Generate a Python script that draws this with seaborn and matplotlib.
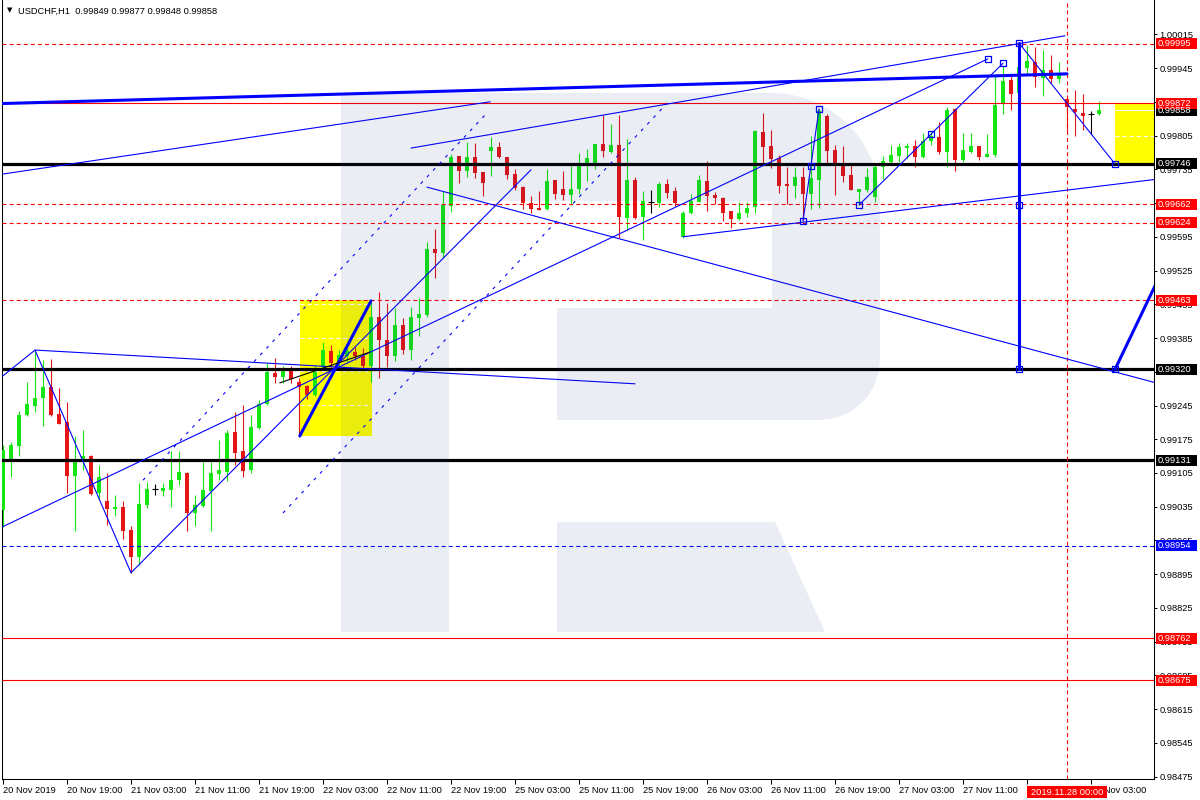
import numpy as np
import pandas as pd
import matplotlib
matplotlib.use("Agg")
import matplotlib.pyplot as plt
import matplotlib.transforms as mtransforms
from matplotlib.patches import Rectangle, Polygon
import seaborn as sns

# ---------------- data ----------------
symbol = "USDCHF,H1"

bar_open = [0.99028, 0.99134, 0.99161, 0.99225, 0.99244, 0.99261, 0.99283, 0.99227, 0.99211, 0.99099,
            0.99134, 0.99140, 0.99063, 0.99047, 0.99030, 0.99034, 0.98987, 0.98931, 0.99039, 0.99072,
            0.99068, 0.99070, 0.99090, 0.99105, 0.99022, 0.99037, 0.99068, 0.99103, 0.99107, 0.99190,
            0.99151, 0.99111, 0.99198, 0.99248, 0.99312, 0.99304, 0.99317, 0.99294, 0.99285, 0.99267,
            0.99325, 0.99358, 0.99333, 0.99348, 0.99356, 0.99348, 0.99327, 0.99429, 0.99381, 0.99348,
            0.99412, 0.99360, 0.99426, 0.99433, 0.99570, 0.99561, 0.99659, 0.99763, 0.99731, 0.99760,
            0.99729, 0.99773, 0.99781, 0.99760, 0.99725, 0.99698, 0.99665, 0.99655, 0.99653, 0.99713,
            0.99694, 0.99682, 0.99694, 0.99744, 0.99748, 0.99787, 0.99771, 0.99785, 0.99634, 0.99713,
            0.99636, 0.99667, 0.99665, 0.99704, 0.99690, 0.99595, 0.99644, 0.99667, 0.99711, 0.99682,
            0.99675, 0.99648, 0.99632, 0.99644, 0.99657, 0.99812, 0.99783, 0.99758, 0.99704, 0.99700,
            0.99719, 0.99684, 0.99713, 0.99846, 0.99775, 0.99744, 0.99723, 0.99688, 0.99692, 0.99677,
            0.99740, 0.99750, 0.99763, 0.99779, 0.99783, 0.99760, 0.99794, 0.99802, 0.99771, 0.99860,
            0.99754, 0.99771, 0.99783, 0.99760, 0.99765, 0.99872, 0.99920, 0.99893, 0.99945, 0.99958,
            0.99924, 0.99941, 0.99922, 0.99881, 0.99860, 0.99852, 0.99850, 0.99849]
bar_high = [0.99163, 0.99169, 0.99234, 0.99294, 0.99360, 0.99339, 0.99341, 0.99281, 0.99252, 0.99182,
            0.99194, 0.99142, 0.99122, 0.99105, 0.99059, 0.99047, 0.98995, 0.99084, 0.99086, 0.99082,
            0.99084, 0.99151, 0.99151, 0.99107, 0.99059, 0.99128, 0.99128, 0.99173, 0.99194, 0.99231,
            0.99246, 0.99225, 0.99256, 0.99333, 0.99344, 0.99327, 0.99327, 0.99302, 0.99288, 0.99327,
            0.99377, 0.99370, 0.99360, 0.99364, 0.99366, 0.99364, 0.99460, 0.99480, 0.99458, 0.99447,
            0.99426, 0.99449, 0.99468, 0.99584, 0.99611, 0.99690, 0.99767, 0.99763, 0.99792, 0.99790,
            0.99729, 0.99802, 0.99792, 0.99760, 0.99736, 0.99700, 0.99680, 0.99690, 0.99736, 0.99713,
            0.99731, 0.99742, 0.99769, 0.99777, 0.99787, 0.99848, 0.99829, 0.99848, 0.99798, 0.99719,
            0.99690, 0.99692, 0.99709, 0.99715, 0.99698, 0.99648, 0.99684, 0.99723, 0.99752, 0.99688,
            0.99677, 0.99648, 0.99667, 0.99667, 0.99816, 0.99852, 0.99816, 0.99765, 0.99740, 0.99740,
            0.99740, 0.99804, 0.99860, 0.99850, 0.99785, 0.99783, 0.99744, 0.99694, 0.99738, 0.99744,
            0.99763, 0.99785, 0.99790, 0.99790, 0.99796, 0.99810, 0.99812, 0.99833, 0.99864, 0.99862,
            0.99810, 0.99810, 0.99783, 0.99808, 0.99928, 0.99951, 0.99931, 0.99997, 0.99993, 0.99989,
            0.99982, 0.99972, 0.99958, 0.99881, 0.99899, 0.99891, 0.99856, 0.99877]
bar_low = [0.98993, 0.99097, 0.99140, 0.99223, 0.99231, 0.99202, 0.99223, 0.99207, 0.99063, 0.98985,
           0.99111, 0.99059, 0.99053, 0.98997, 0.99016, 0.98968, 0.98898, 0.98914, 0.99032, 0.99059,
           0.99057, 0.99034, 0.99080, 0.98985, 0.98995, 0.99034, 0.98985, 0.99090, 0.99088, 0.99122,
           0.99097, 0.99105, 0.99196, 0.99246, 0.99292, 0.99292, 0.99292, 0.99180, 0.99258, 0.99265,
           0.99323, 0.99325, 0.99325, 0.99335, 0.99339, 0.99323, 0.99294, 0.99302, 0.99325, 0.99337,
           0.99352, 0.99339, 0.99389, 0.99429, 0.99509, 0.99551, 0.99646, 0.99707, 0.99719, 0.99717,
           0.99680, 0.99721, 0.99758, 0.99715, 0.99692, 0.99653, 0.99644, 0.99651, 0.99651, 0.99673,
           0.99671, 0.99661, 0.99684, 0.99711, 0.99736, 0.99760, 0.99769, 0.99592, 0.99609, 0.99632,
           0.99588, 0.99644, 0.99657, 0.99675, 0.99659, 0.99592, 0.99642, 0.99667, 0.99648, 0.99663,
           0.99628, 0.99613, 0.99630, 0.99636, 0.99644, 0.99748, 0.99738, 0.99686, 0.99663, 0.99675,
           0.99628, 0.99653, 0.99655, 0.99748, 0.99682, 0.99709, 0.99692, 0.99661, 0.99688, 0.99667,
           0.99715, 0.99744, 0.99750, 0.99758, 0.99740, 0.99758, 0.99785, 0.99767, 0.99740, 0.99731,
           0.99750, 0.99769, 0.99754, 0.99760, 0.99760, 0.99850, 0.99858, 0.99875, 0.99931, 0.99906,
           0.99887, 0.99914, 0.99914, 0.99812, 0.99804, 0.99816, 0.99808, 0.99848]
bar_close = [0.99153, 0.99163, 0.99225, 0.99248, 0.99261, 0.99283, 0.99225, 0.99207, 0.99099, 0.99128,
             0.99140, 0.99061, 0.99097, 0.99030, 0.99034, 0.98985, 0.98931, 0.99041, 0.99072, 0.99072,
             0.99074, 0.99090, 0.99107, 0.99022, 0.99039, 0.99070, 0.99105, 0.99111, 0.99188, 0.99146,
             0.99109, 0.99200, 0.99248, 0.99314, 0.99304, 0.99317, 0.99300, 0.99283, 0.99267, 0.99314,
             0.99360, 0.99333, 0.99350, 0.99358, 0.99348, 0.99327, 0.99429, 0.99381, 0.99348, 0.99412,
             0.99360, 0.99429, 0.99435, 0.99570, 0.99561, 0.99661, 0.99760, 0.99731, 0.99760, 0.99727,
             0.99707, 0.99781, 0.99760, 0.99723, 0.99696, 0.99665, 0.99653, 0.99651, 0.99711, 0.99684,
             0.99682, 0.99694, 0.99744, 0.99758, 0.99787, 0.99773, 0.99785, 0.99636, 0.99713, 0.99634,
             0.99669, 0.99667, 0.99704, 0.99686, 0.99665, 0.99644, 0.99669, 0.99713, 0.99680, 0.99675,
             0.99644, 0.99632, 0.99644, 0.99655, 0.99814, 0.99781, 0.99756, 0.99700, 0.99700, 0.99719,
             0.99684, 0.99717, 0.99856, 0.99773, 0.99748, 0.99721, 0.99692, 0.99694, 0.99719, 0.99740,
             0.99752, 0.99765, 0.99781, 0.99783, 0.99760, 0.99794, 0.99804, 0.99771, 0.99858, 0.99754,
             0.99775, 0.99783, 0.99760, 0.99767, 0.99868, 0.99918, 0.99891, 0.99947, 0.99960, 0.99926,
             0.99941, 0.99922, 0.99933, 0.99864, 0.99854, 0.99846, 0.99850, 0.99858]

# the 27 Nov 19:00 label sits fully under the cursor time tag, so it is left blank
time_labels = ["20 Nov 2019", "20 Nov 19:00", "21 Nov 03:00", "21 Nov 11:00", "21 Nov 19:00",
               "22 Nov 03:00", "22 Nov 11:00", "22 Nov 19:00", "25 Nov 03:00", "25 Nov 11:00",
               "25 Nov 19:00", "26 Nov 03:00", "26 Nov 11:00", "26 Nov 19:00", "27 Nov 03:00",
               "27 Nov 11:00", "", "28 Nov 03:00"]
bars_per_label = 8
cursor_bar = 133
cursor_label = "2019.11.28 00:00"

price_ticks = [1.00015, 0.99945, 0.99875, 0.99805, 0.99735, 0.99665, 0.99595, 0.99525, 0.99455,
               0.99385, 0.99315, 0.99245, 0.99175, 0.99105, 0.99035, 0.98965, 0.98895, 0.98825,
               0.98755, 0.98685, 0.98615, 0.98545, 0.98475]

red_dashed_levels = [0.99995, 0.99662, 0.99624, 0.99463]
red_solid_levels = [0.99872, 0.98762, 0.98675]
black_levels = [0.99746, 0.99320, 0.99131]
blue_dashed_levels = [0.98954]

# trend lines as (bar, price) pairs
thick_top_line = [(-1.0, 0.99871), (133.0, 0.99933)]
thin_left_line = [(-0.5, 0.99724), (60.9, 0.99875)]
upper_channel = [(51.0, 0.99779), (132.75, 1.00012)]
long_rising_line = [(-0.5, 0.98990), (123.1, 0.99964)]
flat_falling_line = [(4.0, 0.99360), (79.0, 0.99290)]
first_zigzag = [(-0.5, 0.99300), (4.0, 0.99360), (16.0, 0.98898), (66.0, 0.99734)]
dash_channel_upper = [(17.5, 0.99090), (60.5, 0.99852)]
dash_channel_lower = [(35.0, 0.99022), (83.0, 0.99872)]
long_falling_line = [(53.0, 0.99698), (145.0, 0.99288)]
lower_rising_line = [(85.0, 0.99595), (145.0, 0.99716)]
zigzag_a = [(100.0, 0.99628), (102.0, 0.99860)]
zigzag_b = [(107.0, 0.99661), (125.0, 0.99955)]
zigzag_c = [(127.0, 0.99997), (139.0, 0.99746)]
target_vertical = [(127.0, 0.99997), (127.0, 0.99320)]
target_up = [(139.0, 0.99320), (145.0, 0.99528)]
fan_thick = [(37.1, 0.99182), (46.0, 0.99462)]
fan_black = [(34.6, 0.99292), (45.9, 0.99356)]

anchor_bars = [123.1, 125.0, 127.0, 100.0, 102.0, 101.0, 107.0, 116.0, 127.0, 127.0, 139.0, 139.0]
anchor_prices = [0.99964, 0.99955, 0.99997, 0.99628, 0.99860, 0.99742, 0.99661, 0.99808, 0.99661,
                 0.99320, 0.99746, 0.99320]

left_box = (37.1, 46.1, 0.99182, 0.99464)
left_box_levels = [0.99455, 0.99385, 0.99317, 0.99246]
right_box = (139.0, 150.0, 0.99746, 0.99870)
right_box_dashed = [0.99804]

# ---------------- style ----------------
GREEN = "#14e614"
RED = "#e61414"
LEVEL_RED = "#ff0000"
BLUE = "#0000ff"
FS = 6.7

sns.set_theme(style="white")
plt.rcParams["font.family"] = ["Liberation Sans", "DejaVu Sans"]
plt.rcParams["lines.scale_dashes"] = False
plt.rcParams["axes.linewidth"] = 0.75

fig = plt.figure(figsize=(12, 8), dpi=100)
ax = fig.add_axes([2.3 / 1200, 21 / 800, 1151.2 / 1200, 779 / 800])
ax.set_facecolor("white")
ax.set_xlim(-0.0875, 143.81)
ax.set_ylim(0.984702, 1.000862)

dash = (0, (2.9, 2.2))
dot = (0, (2.2, 4.3))

# yellow rectangles (behind candles)
ax.add_patch(Rectangle((left_box[0], left_box[2]), left_box[1] - left_box[0], left_box[3] - left_box[2],
                       facecolor="#ffff00", edgecolor="none", zorder=1))
ax.hlines(left_box_levels, left_box[0], left_box[1], colors="white", lw=0.8, linestyles=dash, zorder=1.5)
ax.add_patch(Rectangle((right_box[0], right_box[2]), right_box[1] - right_box[0], right_box[3] - right_box[2],
                       facecolor="#ffff00", edgecolor="none", zorder=1))
ax.hlines(right_box_dashed, right_box[0], right_box[1], colors="white", lw=0.8, linestyles=dash, zorder=1.5)
ax.hlines([bar_close[-1]], right_box[0], right_box[1], colors="white", lw=0.8, zorder=1.5)

# candles
df = pd.DataFrame({"o": bar_open, "h": bar_high, "l": bar_low, "c": bar_close})
df["i"] = np.arange(len(df))
up = df.c > df.o
down = df.c < df.o
flat = ~(up | down)
cols = np.where(up, GREEN, np.where(down, RED, "black"))
ax.vlines(df.i, df.l, df.h, colors=cols, lw=0.8, zorder=4)
body = ~flat
ax.bar(df.i[body], (df.c - df.o).abs()[body], bottom=np.minimum(df.o, df.c)[body],
       width=0.62, color=cols[body.values], linewidth=0, zorder=5)
ax.hlines(df.c[flat], df.i[flat] - 0.33, df.i[flat] + 0.33, colors="black", lw=0.8, zorder=5)

# horizontal levels
for p in red_dashed_levels:
    ax.axhline(p, color=LEVEL_RED, lw=0.8, ls=dash, zorder=6)
for p in red_solid_levels:
    ax.axhline(p, color=LEVEL_RED, lw=0.8, zorder=6)
for p in black_levels:
    ax.axhline(p, color="black", lw=2.3, zorder=6)
for p in blue_dashed_levels:
    ax.axhline(p, color=BLUE, lw=0.8, ls=dash, zorder=6)
ax.axvline(cursor_bar, color=LEVEL_RED, lw=0.8, ls=dash, zorder=6)


def draw(points, **kw):
    xs, ys = zip(*points)
    ax.plot(xs, ys, **kw)


for line in [thin_left_line, upper_channel, long_rising_line, flat_falling_line, first_zigzag,
             long_falling_line, lower_rising_line, zigzag_a, zigzag_b, zigzag_c]:
    draw(line, color=BLUE, lw=0.8, zorder=7)
for line in [dash_channel_upper, dash_channel_lower]:
    draw(line, color=BLUE, lw=0.8, ls=dot, zorder=7)
for line in [thick_top_line, target_vertical, target_up, fan_thick]:
    draw(line, color=BLUE, lw=2.2, zorder=7)
draw(fan_black, color="black", lw=0.8, zorder=7)

sns.scatterplot(x=anchor_bars, y=anchor_prices, marker="s", s=18, facecolor="none",
                edgecolor=BLUE, linewidth=0.9, ax=ax, zorder=8, legend=False)

# watermark logo, drawn on top with transparency
def px_to_axes(pts):
    return [((x - 2.3) / 1151.2, (779 - y) / 779) for x, y in pts]


t1 = np.linspace(-np.pi / 2, 0, 12)
t2 = np.linspace(0, np.pi / 2, 8)
bowl = ([(449, 93), (772, 93)]
        + [(772 + 108 * np.cos(a), 201 + 108 * np.sin(a)) for a in t1]
        + [(880, 360)]
        + [(820 + 60 * np.cos(a), 360 + 60 * np.sin(a)) for a in t2]
        + [(557, 420), (557, 308), (772, 308), (772, 201), (449, 201)])
stem = [(341, 93), (449, 93), (449, 632), (341, 632)]
leg = [(557, 522), (775, 522), (825, 632), (557, 632)]
for shape in [stem, bowl, leg]:
    ax.add_patch(Polygon(px_to_axes(shape), closed=True, transform=ax.transAxes,
                         facecolor="#1e3c8c", edgecolor="none", alpha=0.09, zorder=20))

# axes and ticks
ax.spines["top"].set_visible(False)
for s in ["left", "right", "bottom"]:
    ax.spines[s].set_color("black")
    ax.spines[s].set_linewidth(0.75)

ax.yaxis.tick_right()
ax.set_yticks(price_ticks)
ax.set_yticklabels([f"{p:.5f}" for p in price_ticks])
ax.tick_params(axis="y", which="both", right=True, left=False, direction="out", length=2.4,
               width=0.75, pad=2.0, labelsize=FS, colors="black")
ax.set_xticks(np.arange(len(time_labels)) * bars_per_label)
ax.set_xticklabels(time_labels, ha="left")
ax.tick_params(axis="x", direction="out", length=3.6, width=0.75, pad=1.2, labelsize=FS,
               colors="black", bottom=True)
ax.set_xlabel("")
ax.set_ylabel("")

# price tags on the right scale
ytrans = mtransforms.blended_transform_factory(ax.transAxes, ax.transData)
tag_h = 11 * 2.0744e-5


def price_tag(p, color):
    ax.add_patch(Rectangle((1.0023, p - tag_h / 2), 0.0356, tag_h, transform=ytrans,
                           facecolor=color, edgecolor="none", clip_on=False, zorder=30))
    ax.text(1.0040, p, f"{p:.5f}", transform=ytrans, color="white", fontsize=FS,
            va="center", ha="left", clip_on=False, zorder=31)


price_tag(bar_close[-1], "black")
for p in red_dashed_levels + red_solid_levels:
    price_tag(p, LEVEL_RED)
for p in black_levels:
    price_tag(p, "black")
for p in blue_dashed_levels:
    price_tag(p, BLUE)

# time tag under the cursor line
xtrans = mtransforms.blended_transform_factory(ax.transData, ax.transAxes)
ax.add_patch(Rectangle((cursor_bar - 4.95, -0.0244), 9.9, 0.0154, transform=xtrans,
                       facecolor=LEVEL_RED, edgecolor="none", clip_on=False, zorder=30))
ax.text(cursor_bar, -0.0167, cursor_label, transform=xtrans, color="white", fontsize=FS,
        ha="center", va="center", clip_on=False, zorder=31)

# header
header = f"{symbol}  {bar_open[-1]:.5f} {bar_high[-1]:.5f} {bar_low[-1]:.5f} {bar_close[-1]:.5f}"
fig.text(7 / 1200, 1 - 10.5 / 800, "\u25bc", fontsize=5, family="DejaVu Sans", va="center", color="black")
fig.text(18 / 1200, 1 - 11 / 800, header, fontsize=FS, va="center", color="black")

fig.savefig("out.png", dpi=100, facecolor="white")
